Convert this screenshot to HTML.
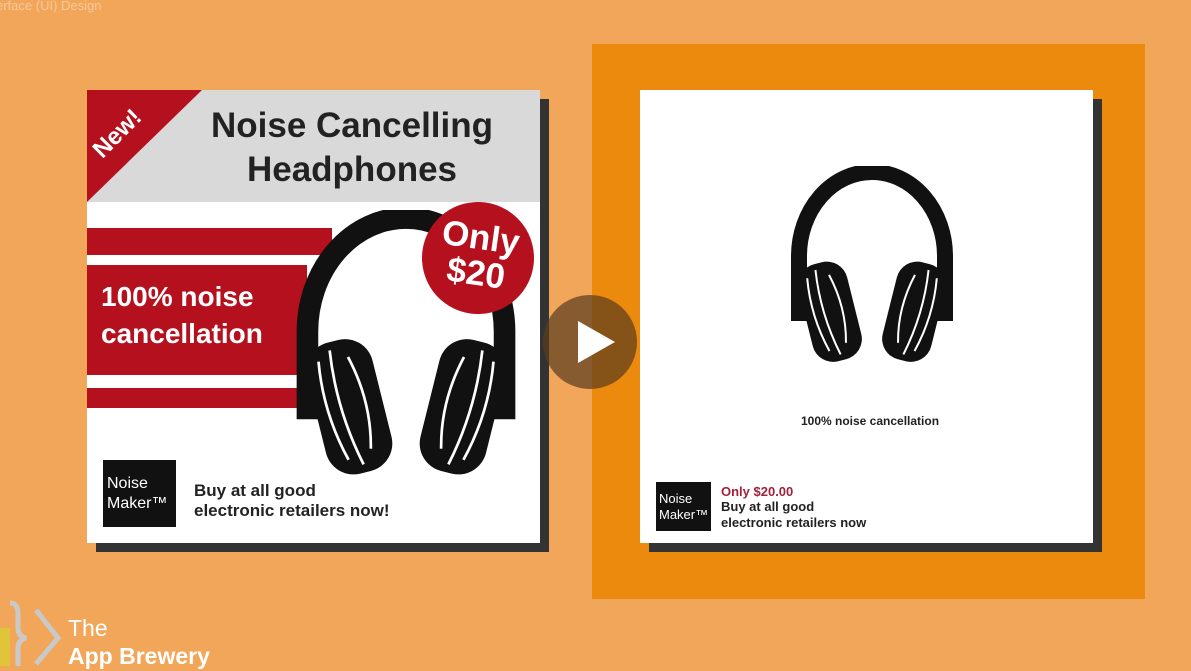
<!DOCTYPE html>
<html><head><meta charset="utf-8"><style>
body{margin:0;width:1191px;height:666px;overflow:hidden;background:#f2a65a;position:relative;font-family:"Liberation Sans",sans-serif}
div{position:absolute;box-sizing:border-box}
.b{font-weight:bold}
</style></head><body>
<svg width="0" height="0" style="position:absolute"><defs>
<g id="hp">
<path d="M12,155 L12,90 A73,84 0 0 1 158,90 L158,155" fill="none" stroke="#111" stroke-width="16"/>
<g transform="rotate(-14 42 146)">
<rect x="18" y="96" width="50" height="100" rx="21" fill="#111"/>
<path d="M29,108 Q23,146 33,184" stroke="#fff" stroke-width="2" fill="none"/>
<path d="M39,102 Q33,146 43,190" stroke="#fff" stroke-width="2" fill="none"/>
<path d="M51,110 Q60,146 51,180" stroke="#fff" stroke-width="2" fill="none"/>
</g>
<g transform="rotate(14 128 146)">
<rect x="102" y="96" width="50" height="100" rx="21" fill="#111"/>
<path d="M141,108 Q147,146 137,184" stroke="#fff" stroke-width="2" fill="none"/>
<path d="M131,102 Q137,146 127,190" stroke="#fff" stroke-width="2" fill="none"/>
<path d="M119,110 Q110,146 119,180" stroke="#fff" stroke-width="2" fill="none"/>
</g>
</g></defs></svg>
<div style="left:-4px;top:-2px;color:#f7c89a;font-size:13px">erface (UI) Design</div>

<div style="left:96px;top:99px;width:453px;height:453px;background:#333"></div>
<div style="left:87px;top:90px;width:453px;height:453px;background:#fff;overflow:hidden">
 <div style="left:0;top:0;width:453px;height:112px;background:#d9d9d9"></div>
 <svg style="position:absolute;left:0;top:0" width="120" height="112"><polygon points="0,0 115,0 0,112" fill="#b5101e"/></svg>
 <div class="b" style="left:2px;top:30px;color:#fff;font-size:24px;transform:rotate(-45deg)">New!</div>
 <div class="b" style="left:90px;top:14px;width:350px;text-align:center;font-size:35px;line-height:44px;color:#222">Noise Cancelling<br>Headphones</div>
 <div style="left:0;top:138px;width:245px;height:27px;background:#b5101e"></div>
 <div style="left:0;top:175px;width:220px;height:110px;background:#b5101e"></div>
 <div style="left:0;top:298px;width:220px;height:20px;background:#b5101e"></div>
 <div class="b" style="left:14px;top:188px;color:#fff;font-size:28px;line-height:37px">100% noise<br>cancellation</div>
 <svg style="position:absolute;left:204px;top:120px" width="230" height="270" viewBox="0 0 170 200"><use href="#hp"/></svg>
 <div class="b" style="left:335px;top:112px;width:112px;height:112px;border-radius:50%;background:#b5101e;color:#fff;font-size:35px;line-height:36px;text-align:center;padding-top:18px;transform:rotate(8deg)">Only<br>$20</div>
 <div style="left:16px;top:370px;width:73px;height:67px;background:#111;color:#fff;font-size:16px;line-height:20px;padding:14px 0 0 4px">Noise<br>Maker™</div>
 <div class="b" style="left:107px;top:391px;font-size:17px;line-height:20px;color:#222">Buy at all good<br>electronic retailers now!</div>
</div>

<div style="left:592px;top:44px;width:553px;height:555px;background:#ec8a0d"></div>
<div style="left:649px;top:99px;width:453px;height:453px;background:#333"></div>
<div style="left:640px;top:90px;width:453px;height:453px;background:#fff">
 <svg style="position:absolute;left:147px;top:76px" width="170" height="200" viewBox="0 0 170 200"><use href="#hp"/></svg>
 <div class="b" style="left:0;top:324px;width:460px;text-align:center;font-size:12px;color:#222">100% noise cancellation</div>
 <div style="left:16px;top:392px;width:55px;height:49px;background:#111;color:#fff;font-size:13px;line-height:16px;padding:9px 0 0 3px">Noise<br>Maker™</div>
 <div class="b" style="left:81px;top:394px;font-size:13px;color:#a0213a">Only $20.00</div>
 <div class="b" style="left:81px;top:409px;font-size:13px;line-height:16px;color:#222">Buy at all good<br>electronic retailers now</div>
</div>

<div style="left:543px;top:295px;width:94px;height:94px;border-radius:50%;background:rgba(90,60,30,0.7)">
 <svg width="94" height="94" style="position:absolute;left:0;top:0"><polygon points="35,26 35,68 72,47" fill="#fff"/></svg>
</div>

<div style="left:0;top:600px;width:70px;height:66px">
 <svg width="70" height="66"><path d="M10,3 Q18,3 18,14 L18,28 Q18,36 26,38 Q18,40 18,48 L18,66" stroke="#c9c9c9" stroke-width="5" fill="none"/><path d="M36,10 L58,38 L36,64" stroke="#c9c9c9" stroke-width="5" fill="none"/><rect x="0" y="28" width="10" height="38" fill="#e0c43a"/></svg>
</div>
<div style="left:68px;top:614px;color:#fff;font-size:23px;line-height:28px">The<br><b>App Brewery</b></div>
</body></html>
